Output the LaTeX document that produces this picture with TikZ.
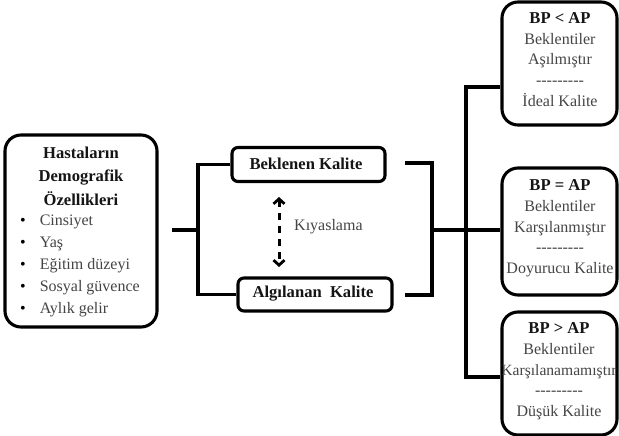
\documentclass[tikz,border=0pt]{standalone}
\usepackage{fontspec}
\setmainfont{Liberation Serif}
\usetikzlibrary{arrows.meta}
\definecolor{txtgray}{HTML}{454545}
\definecolor{txtdark}{HTML}{151515}
\tikzset{
  bigbox/.style={draw=black, line width=3.1pt, rounded corners=16pt, fill=white},
  smallbox/.style={draw=black, line width=3.1pt, rounded corners=6pt, fill=white},
  conn/.style={draw=black, line width=3.1pt},
  cmp/.style={draw=black, line width=3pt, dash pattern=on 7pt off 6pt,
    {Straight Barb[length=5pt,width=11pt,line width=2.8pt]}-{Straight Barb[length=5pt,width=11pt,line width=2.8pt]}},
  boldtxt/.style={text=txtdark, font=\fontsize{16.6}{20}\selectfont\bfseries, inner sep=0pt},
  grtxt/.style={text=txtgray, font=\fontsize{16}{20}\selectfont, inner sep=0pt},
  rtxt/.style={text=txtgray, font=\fontsize{16}{20.75}\selectfont, inner sep=0pt, anchor=base},
}
\newcommand{\bphead}[1]{{\fontsize{16.6}{20.75}\selectfont\bfseries\color{txtdark}#1}}
\newcommand{\dashrow}{-{}-{}-{}-{}-{}-{}-{}-{}-}
\begin{document}
\begin{tikzpicture}[x=1pt,y=-1pt]
\useasboundingbox (0,0) rectangle (619,436);

% left box
\node[bigbox, minimum width=152pt, minimum height=192pt] (demo) at (81,231) {};
\node[boldtxt, anchor=base] (demotitle) at (81,158)
  {\begin{tabular}[t]{@{}c@{}}Hastaların\\[3.5pt] Demografik\\[3.5pt] Özellikleri\end{tabular}};
\node[grtxt, anchor=base west] (demolist) at (20,225)
  {\renewcommand{\arraystretch}{1.1}\begin{tabular}[t]{@{}l@{\hspace{14pt}}l@{}}
   \textcolor{black}{•} & Cinsiyet\\
   \textcolor{black}{•} & Yaş\\
   \textcolor{black}{•} & Eğitim düzeyi\\
   \textcolor{black}{•} & Sosyal güvence\\
   \textcolor{black}{•} & Aylık gelir
   \end{tabular}};

% middle boxes
\node[smallbox, minimum width=153pt, minimum height=34pt] (bk) at (308.5,164.5) {};
\node[boldtxt] (bktxt) at (306,164) {Beklenen Kalite};
\node[smallbox, minimum width=154pt, minimum height=33pt] (al) at (315,294.5) {};
\node[boldtxt] (altxt) at (313,294) {Algılanan\ \ Kalite};

% comparison arrow
\coordinate (ka) at (279,197);
\coordinate (kb) at (279,267);
\draw[cmp] (ka) -- (kb);
\node[grtxt, anchor=west] (kiy) at (294,227) {Kıyaslama};

% right boxes
\node[bigbox, minimum width=115pt, minimum height=123pt] (top) at (559.5,63.5) {};
\node[rtxt] (toptxt) at (560,23.5) {\begin{tabular}[t]{@{}c@{}}
  \bphead{BP < AP}\\ Beklentiler\\ Aşılmıştır\\ \dashrow\\ İdeal Kalite
  \end{tabular}};

\node[bigbox, minimum width=115pt, minimum height=127pt] (mid) at (559.5,231.5) {};
\node[rtxt] (midtxt) at (560,190.5) {\begin{tabular}[t]{@{}c@{}}
  \bphead{BP = AP}\\ Beklentiler\\ Karşılanmıştır\\ \dashrow\\ Doyurucu Kalite
  \end{tabular}};

\node[bigbox, minimum width=115pt, minimum height=123pt] (bot) at (559.5,373.5) {};
\node[rtxt] (bottxt) at (559,333.5) {\begin{tabular}[t]{@{}c@{}}
  \bphead{BP > AP}\\ Beklentiler\\ {\fontsize{15.6}{20.75}\selectfont Karşılanamamıştır}\\ \dashrow\\ Düşük Kalite
  \end{tabular}};

% connectors
\coordinate (stub) at (172,230);
\coordinate (jl) at (198,230);
\draw[conn] (stub) -- (jl);
\draw[conn] (bk.west) -| (jl) |- (al.west);

\coordinate (rb1) at (405,163);
\coordinate (rb2) at (405,295);
\coordinate (jr) at (432,230);
\draw[conn] (rb1) -| (jr) |- (rb2);
\draw[conn] (jr) -- (jr -| mid.west);

\coordinate (tt) at (466,87);
\coordinate (tb) at (466,377);
\draw[conn] (tt -| top.west) -- (tt) -- (tb) -- (tb -| bot.west);
\end{tikzpicture}
\end{document}
